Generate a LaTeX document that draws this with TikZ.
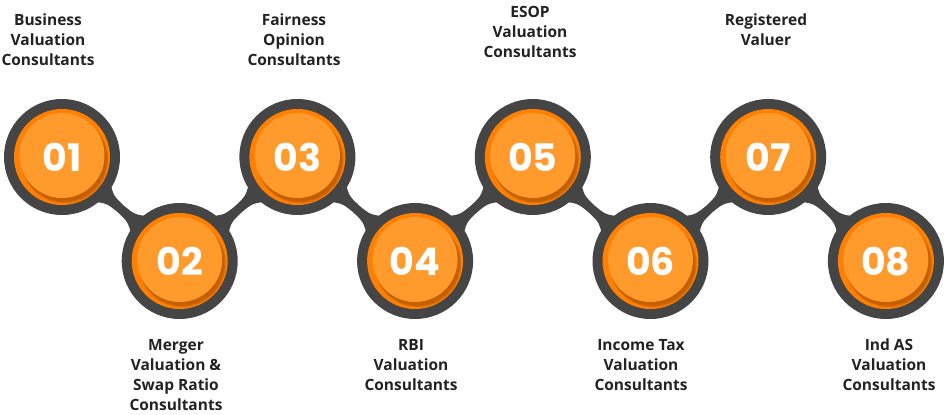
\documentclass[tikz,border=0pt]{standalone}
\usepackage{fontspec}
\setmainfont{Open Sans}
\newfontfamily\numfont{Poppins}
\usetikzlibrary{backgrounds,calc}
\definecolor{ring}{HTML}{454545}
\definecolor{orangeA}{HTML}{FF8000}
\definecolor{orangeShade}{HTML}{C45F00}
\definecolor{orangeFace}{HTML}{FF9A2C}
\definecolor{labelcol}{HTML}{222222}
\begin{document}
\begin{tikzpicture}[x=1pt,y=-1pt,
  hub/.style={circle, fill=ring, minimum size=116pt, inner sep=0pt},
  neck/.style={fill=ring},
  lbl/.style={align=center, font=\bfseries\fontsize{15.5}{20}\selectfont, text=labelcol, inner sep=0pt},
  num/.style={font=\numfont\bfseries\fontsize{38}{38}\selectfont, text=white, inner sep=0pt}]
\useasboundingbox (0,0) rectangle (951,415);

% hubs, alternating between the upper and lower row
\foreach \i in {1,...,8} {
  \pgfmathsetmacro\cx{62+117.7*(\i-1)}
  \pgfmathsetmacro\cy{mod(\i,2)==1 ? 157 : 261}
  \node[hub] (n\i) at (\cx,\cy) {};
  \fill[orangeA] (n\i.center) circle[radius=48pt];
  \fill[orangeShade!70!orangeA] ([shift={(2.5,2.5)}]n\i.center) circle[radius=43.5pt];
  \fill[orangeShade] ([shift={(2,2)}]n\i.center) circle[radius=42.5pt];
  \fill[orangeFace] ([shift={(0,-1.5)}]n\i.center) circle[radius=42.5pt];
  \node[num] at ([shift={(0,0.5)}]n\i.center) {0\i};
}

% necks joining neighbouring hubs
\begin{pgfonlayer}{background}
\foreach \i in {1,...,7} {
  \pgfmathtruncatemacro\j{\i+1}
  \fill[neck]
    ($(n\i.center)!0.3185!(n\j.center)!15pt!90:(n\j.center)$)
    .. controls ($(n\i.center)!0.4076!(n\j.center)!5pt!90:(n\j.center)$) ..
    ($(n\i.center)!0.5!(n\j.center)!4.5pt!90:(n\j.center)$)
    .. controls ($(n\i.center)!0.5924!(n\j.center)!5pt!90:(n\j.center)$) ..
    ($(n\i.center)!0.6815!(n\j.center)!15pt!90:(n\j.center)$)
    -- ($(n\i.center)!0.6815!(n\j.center)!15pt!-90:(n\j.center)$)
    .. controls ($(n\i.center)!0.5924!(n\j.center)!5pt!-90:(n\j.center)$) ..
    ($(n\i.center)!0.5!(n\j.center)!4.5pt!-90:(n\j.center)$)
    .. controls ($(n\i.center)!0.4076!(n\j.center)!5pt!-90:(n\j.center)$) ..
    ($(n\i.center)!0.3185!(n\j.center)!15pt!-90:(n\j.center)$)
    -- cycle;
}
\end{pgfonlayer}

% captions
\node[lbl] (t1) at (48,40) {Business\\Valuation\\Consultants};
\node[lbl] (t3) at (294,40) {Fairness\\Opinion\\Consultants};
\node[lbl] (t5) at (530,32) {ESOP\\Valuation\\Consultants};
\node[lbl] (t7) at (766,30) {Registered\\Valuer};
\node[lbl] (t2) at (176,375) {Merger\\Valuation \&\\Swap Ratio\\Consultants};
\node[lbl] (t4) at (411,365) {RBI\\Valuation\\Consultants};
\node[lbl] (t6) at (641,365) {Income Tax\\Valuation\\Consultants};
\node[lbl] (t8) at (889,365) {Ind AS\\Valuation\\Consultants};
\end{tikzpicture}
\end{document}
